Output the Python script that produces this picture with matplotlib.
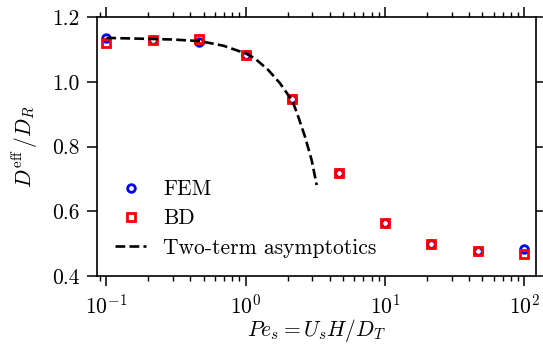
"""
Deff / DR versus Pe_s : FEM, BD and two-term asymptotics
"""

import matplotlib
matplotlib.use('Agg')
import matplotlib.pyplot as plt

# --- data ---
pe = [0.1, 0.215, 0.464, 1.0, 2.15, 4.64, 10.0, 21.5, 46.4, 100.0]
d_fem = [1.135, 1.130, 1.122, 1.084, 0.948, 0.719, 0.565, 0.500, 0.477, 0.482]
d_bd = [1.121, 1.130, 1.132, 1.083, 0.946, 0.718, 0.565, 0.500, 0.476, 0.467]

# two-term asymptotics (dashed curve)
pe_asym = [0.1, 0.2, 0.3, 0.47, 0.69, 1.0, 1.16, 1.45, 1.76, 2.0, 2.19, 2.38, 2.66, 2.97, 3.23]
d_asym = [1.136, 1.133, 1.131, 1.126, 1.112, 1.088, 1.073, 1.037, 0.996, 0.962, 0.935,
          0.893, 0.831, 0.759, 0.681]

plt.rcParams['font.family'] = ['cmr10', 'DejaVu Serif']
plt.rcParams['mathtext.fontset'] = 'cm'
plt.rcParams['axes.formatter.use_mathtext'] = True
plt.rcParams['font.size'] = 15.5

fig = plt.figure(figsize=(5.43, 3.44), dpi=100)
ax = fig.add_axes([0.179, 0.198, 0.809, 0.752])

ax.plot(pe, d_fem, 'o', ms=5.5, mfc='white', mec='blue', mew=2.0, label='FEM', zorder=3)
ax.plot(pe, d_bd, 's', ms=6, mfc='none', mec='red', mew=2.0, label='BD', zorder=4)
ax.plot(pe_asym, d_asym, '--', color='black', lw=1.9, label='Two-term asymptotics', zorder=5)

ax.set_xscale('log')
ax.set_xlim(0.086, 122)
ax.set_ylim(0.4, 1.2)
ax.set_yticks([0.4, 0.6, 0.8, 1.0, 1.2])
ax.set_yticklabels(['0.4', '0.6', '0.8', '1.0', '1.2'])

ax.tick_params(which='both', direction='out', top=True, right=True)
ax.tick_params(which='major', length=7, width=1.1, pad=5.5)
ax.tick_params(which='minor', length=3.6, width=1)
for s in ax.spines.values():
    s.set_linewidth(1.2)

ax.set_xlabel(r'$Pe_s = U_s H / D_T$', labelpad=0)
ax.set_ylabel(r'$D^{\mathrm{eff}}\,/D_R$', labelpad=9)

ax.legend(loc='lower left', bbox_to_anchor=(0.0, 0.0), frameon=False,
          handlelength=1.4, handletextpad=0.8, labelspacing=0.45, borderaxespad=0.45)

plt.savefig('out.png', dpi=100)
plt.close()
